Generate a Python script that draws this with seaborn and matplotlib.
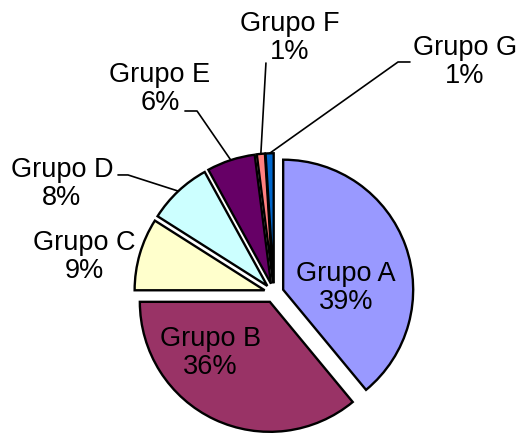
import matplotlib
matplotlib.use('Agg')
import matplotlib.pyplot as plt
import seaborn as sns
import numpy as np

# Data
grupos = ['Grupo A', 'Grupo B', 'Grupo C', 'Grupo D', 'Grupo E', 'Grupo F', 'Grupo G']
porcentajes = [39, 36, 9, 8, 6, 1, 1]
colores = ['#9999FF', '#993366', '#FFFFCC', '#CCFFFF', '#660066', '#FF8080', '#0066CC']

sns.set_theme(style='white')
plt.rcParams['font.family'] = ['Liberation Sans', 'DejaVu Sans']

fig = plt.figure(figsize=(5.19, 4.34), dpi=100)
ax = fig.add_axes([0, 0, 1, 1])

wedges, _ = ax.pie(porcentajes, colors=sns.color_palette(colores), startangle=90,
                   counterclock=False, explode=[0.075] * len(porcentajes),
                   wedgeprops=dict(edgecolor='black', linewidth=1.7))

# label positions (data units, radius = 1)
label_pos = {
    'Grupo A': (0.554, 0.040),
    'Grupo B': (-0.492, -0.462),
    'Grupo C': (-1.462, 0.277),
    'Grupo D': (-1.631, 0.838),
    'Grupo E': (-0.877, 1.569),
    'Grupo F': (0.123, 1.962),
    'Grupo G': (1.469, 1.777),
}
# leader line start (stub x0, stub x1, y)
leaders = {
    'Grupo D': (-1.200, -1.123, 0.908),
    'Grupo E': (-0.685, -0.592, 1.400),
    'Grupo F': (-0.062, -0.062, 1.769),
    'Grupo G': (1.046, 0.954, 1.777),
}

for w, g, p in zip(wedges, grupos, porcentajes):
    x, y = label_pos[g]
    ax.text(x, y, f'{g}\n{p}%', ha='center', va='center', fontsize=19.5,
            linespacing=1.12, color='black')
    if g in leaders:
        x0, x1, y0 = leaders[g]
        ang = np.deg2rad((w.theta1 + w.theta2) / 2)
        cx, cy = w.center
        wx, wy = cx + w.r * np.cos(ang), cy + w.r * np.sin(ang)
        ax.plot([x0, x1, wx], [y0, y0, wy], color='black', lw=1.2)

ax.set_xlim(-274 / 130, 245 / 130)
ax.set_ylim(-141 / 130, 293 / 130)
ax.set_aspect('equal')
ax.axis('off')

plt.savefig('out.png', dpi=100)
